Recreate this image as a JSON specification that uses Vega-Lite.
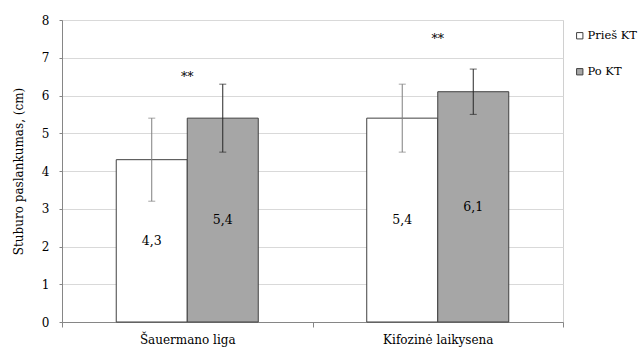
{
  "$schema": "https://vega.github.io/schema/vega-lite/v6.json",
  "width": 501,
  "height": 302,
  "padding": {"left": 12, "top": 14, "right": 0, "bottom": 5},
  "autosize": {"type": "pad"},
  "background": "white",
  "config": {
    "font": "DejaVu Serif",
    "view": {"stroke": "#d0d0d0"},
    "locale": {"number": {"decimal": ",", "thousands": " ", "grouping": [3], "currency": ["", " €"]}},
    "axis": {"labelColor": "#000", "labelFontSize": 12, "titleFontWeight": "normal", "titleColor": "#000", "domainColor": "#868686", "tickColor": "#868686", "gridColor": "#d9d9d9"}
  },
  "datasets": {
    "main": [
      {"group": "Šauermano liga", "series": "Prieš KT", "mean": 4.3, "lo": 3.2, "hi": 5.4},
      {"group": "Šauermano liga", "series": "Po KT", "mean": 5.4, "lo": 4.5, "hi": 6.3},
      {"group": "Kifozinė laikysena", "series": "Prieš KT", "mean": 5.4, "lo": 4.5, "hi": 6.3},
      {"group": "Kifozinė laikysena", "series": "Po KT", "mean": 6.1, "lo": 5.5, "hi": 6.7}
    ],
    "stars": [
      {"group": "Šauermano liga", "y": 6.5, "mark": "**"},
      {"group": "Kifozinė laikysena", "y": 7.5, "mark": "**"}
    ]
  },
  "encoding": {
    "x": {
      "field": "group", "type": "nominal", "sort": ["Šauermano liga", "Kifozinė laikysena"],
      "scale": {"paddingInner": 0, "paddingOuter": 0},
      "axis": {"title": null, "labelAngle": 0, "tickBand": "extent", "tickSize": 5, "labelFontSize": 12, "labelPadding": 7, "grid": false}
    }
  },
  "layer": [
    {
      "data": {"name": "main"},
      "mark": {"type": "bar", "stroke": "#404040", "strokeWidth": 1},
      "encoding": {
        "xOffset": {"field": "series", "type": "nominal", "sort": ["Prieš KT", "Po KT"], "scale": {"paddingOuter": 0.764, "paddingInner": 0}},
        "y": {
          "field": "mean", "type": "quantitative",
          "scale": {"domain": [0, 8]},
          "axis": {"values": [0, 1, 2, 3, 4, 5, 6, 7, 8], "labelOverlap": false, "tickSize": 3, "labelPadding": 10, "title": "Stuburo paslankumas, (cm)", "titleFontSize": 12, "titlePadding": 16, "grid": true}
        },
        "color": {
          "field": "series", "type": "nominal", "sort": ["Prieš KT", "Po KT"],
          "scale": {"domain": ["Prieš KT", "Po KT"], "range": ["#ffffff", "#a6a6a6"]},
          "legend": {"title": null, "orient": "none", "legendX": 512, "legendY": 10, "symbolType": "square", "symbolSize": 40, "symbolStrokeColor": "#404040", "symbolStrokeWidth": 1, "labelFontSize": 11.5, "labelColor": "#000", "rowPadding": 23, "labelOffset": 2, "padding": 0}
        }
      }
    },
    {
      "data": {"name": "main"},
      "mark": {"type": "rule", "strokeWidth": 1},
      "encoding": {
        "xOffset": {"field": "series", "type": "nominal", "sort": ["Prieš KT", "Po KT"]},
        "y": {"field": "lo", "type": "quantitative", "axis": {"values": [0, 1, 2, 3, 4, 5, 6, 7, 8], "labelOverlap": false, "tickSize": 3, "labelPadding": 10, "title": "Stuburo paslankumas, (cm)", "titleFontSize": 12, "titlePadding": 16, "grid": true}},
        "y2": {"field": "hi"},
        "stroke": {"condition": {"test": "datum.series === 'Prieš KT'", "value": "#7f7f7f"}, "value": "#262626"}
      }
    },
    {
      "data": {"name": "main"},
      "mark": {"type": "tick", "size": 7, "thickness": 1, "orient": "horizontal"},
      "encoding": {
        "xOffset": {"field": "series", "type": "nominal", "sort": ["Prieš KT", "Po KT"]},
        "y": {"field": "hi", "type": "quantitative", "axis": {"values": [0, 1, 2, 3, 4, 5, 6, 7, 8], "labelOverlap": false, "tickSize": 3, "labelPadding": 10, "title": "Stuburo paslankumas, (cm)", "titleFontSize": 12, "titlePadding": 16, "grid": true}},
        "color": {"condition": {"test": "datum.series === 'Prieš KT'", "value": "#7f7f7f"}, "value": "#262626"}
      }
    },
    {
      "data": {"name": "main"},
      "mark": {"type": "tick", "size": 7, "thickness": 1, "orient": "horizontal"},
      "encoding": {
        "xOffset": {"field": "series", "type": "nominal", "sort": ["Prieš KT", "Po KT"]},
        "y": {"field": "lo", "type": "quantitative", "axis": {"values": [0, 1, 2, 3, 4, 5, 6, 7, 8], "labelOverlap": false, "tickSize": 3, "labelPadding": 10, "title": "Stuburo paslankumas, (cm)", "titleFontSize": 12, "titlePadding": 16, "grid": true}},
        "color": {"condition": {"test": "datum.series === 'Prieš KT'", "value": "#7f7f7f"}, "value": "#262626"}
      }
    },
    {
      "data": {"name": "main"},
      "transform": [{"calculate": "datum.mean / 2", "as": "mid"}],
      "mark": {"type": "text", "fontSize": 12.5, "color": "#000", "baseline": "middle"},
      "encoding": {
        "xOffset": {"field": "series", "type": "nominal", "sort": ["Prieš KT", "Po KT"]},
        "y": {"field": "mid", "type": "quantitative", "axis": {"values": [0, 1, 2, 3, 4, 5, 6, 7, 8], "labelOverlap": false, "tickSize": 3, "labelPadding": 10, "title": "Stuburo paslankumas, (cm)", "titleFontSize": 12, "titlePadding": 16, "grid": true}},
        "text": {"field": "mean", "type": "quantitative", "format": ".1f"}
      }
    },
    {
      "data": {"name": "stars"},
      "mark": {"type": "text", "fontSize": 12.5, "color": "#000", "baseline": "middle"},
      "encoding": {
        "y": {"field": "y", "type": "quantitative", "axis": {"values": [0, 1, 2, 3, 4, 5, 6, 7, 8], "labelOverlap": false, "tickSize": 3, "labelPadding": 10, "title": "Stuburo paslankumas, (cm)", "titleFontSize": 12, "titlePadding": 16, "grid": true}},
        "text": {"field": "mark"}
      }
    }
  ]
}
